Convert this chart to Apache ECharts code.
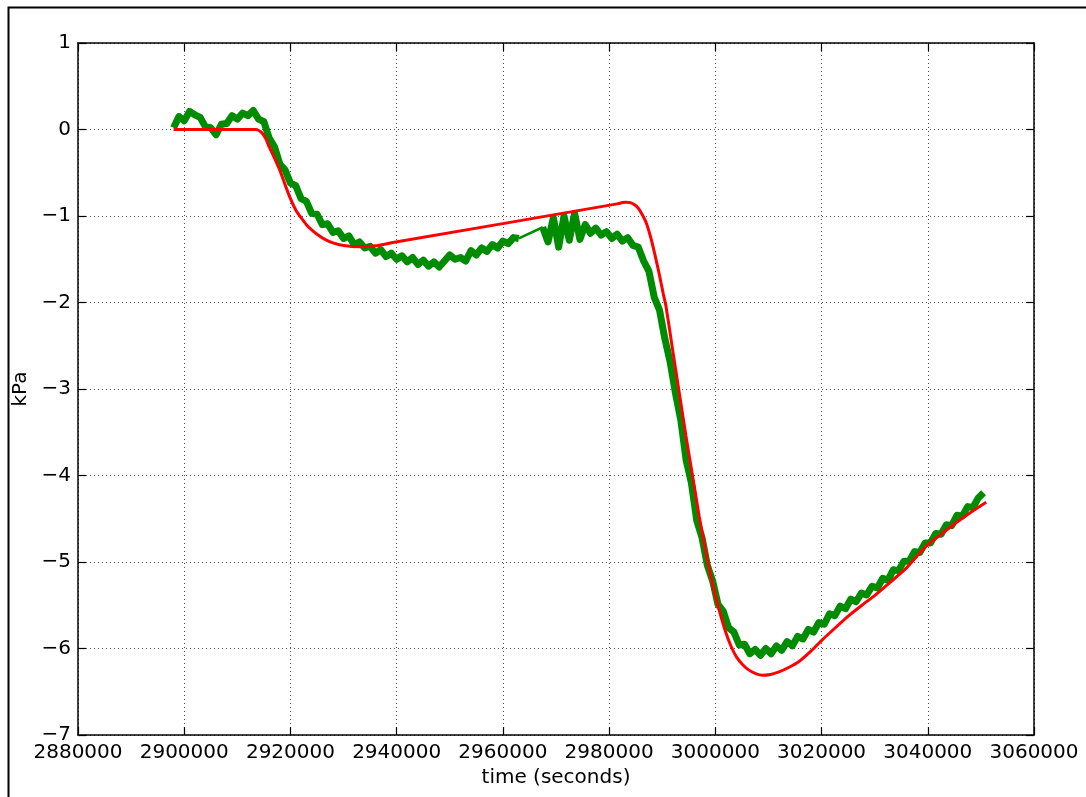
<!DOCTYPE html>
<html>
<head>
<meta charset="utf-8">
<script src="https://cdn.jsdelivr.net/npm/echarts@6/dist/echarts.min.js"></script>
<style>html,body{margin:0;padding:0;background:#fff;}#c{width:1086px;height:797px;}</style>
</head>
<body>
<div id="c"></div>
<script>
// X axis ticks
const xTicks = [2880000, 2900000, 2920000, 2940000, 2960000, 2980000, 3000000, 3020000, 3040000, 3060000];
const yTicks = [-7, -6, -5, -4, -3, -2, -1, 0, 1];

// Model (red) curve
const redTime = [2898000, 2913500, 2914500, 2915300, 2916000, 2917000, 2918000, 2919000, 2920000, 2921000,
  2922000, 2923000, 2924000, 2925000, 2926500, 2928000, 2930000, 2933000, 2936000, 2939000,
  2981500, 2982500, 2983200, 2984000, 2984800, 2985500, 2986200, 2987000, 2987800, 2988600,
  2989400, 2990200, 2990700, 2991940, 2993200, 2994460, 2995700, 2996960, 2998220, 2999460,
  3000700, 3001900, 3003000, 3004000, 3005200, 3006350, 3007600, 3008850, 3010400, 3011990,
  3013800, 3015750, 3018000, 3020130, 3022600, 3025140, 3027600, 3030160, 3033000, 3035800,
  3038000, 3040000, 3042500, 3045000, 3048000, 3051000];
const redValue = [0, 0, -0.03, -0.10, -0.20, -0.33, -0.47, -0.64, -0.80, -0.93,
  -1.02, -1.10, -1.16, -1.21, -1.27, -1.31, -1.34, -1.355, -1.345, -1.31,
  -0.86, -0.845, -0.84, -0.845, -0.87, -0.91, -0.98, -1.08, -1.24, -1.44,
  -1.66, -1.90, -2.04, -2.54, -3.04, -3.54, -4.00, -4.47, -4.89, -5.25,
  -5.55, -5.80, -5.98, -6.10, -6.19, -6.25, -6.29, -6.31, -6.30, -6.27,
  -6.22, -6.15, -6.03, -5.90, -5.76, -5.62, -5.50, -5.38, -5.23, -5.08,
  -4.93, -4.80, -4.68, -4.56, -4.43, -4.31];

// Measured (green) data, first block sampled every 1000 s from 2898000
const greenAStart = 2898000;
const greenStep = 1000;
const greenAValue = [0.02, 0.15, 0.10, 0.21, 0.17, 0.14, 0.03, 0.02, -0.06, 0.06,
  0.07, 0.16, 0.12, 0.19, 0.16, 0.22, 0.12, 0.09, -0.10, -0.20,
  -0.40, -0.47, -0.62, -0.65, -0.80, -0.83, -0.97, -0.98, -1.10, -1.09,
  -1.19, -1.17, -1.26, -1.23, -1.33, -1.30, -1.37, -1.35, -1.43, -1.39,
  -1.47, -1.43, -1.50, -1.46, -1.53, -1.48, -1.56, -1.51, -1.58, -1.53,
  -1.59, -1.52, -1.45, -1.50, -1.48, -1.52, -1.40, -1.45, -1.37, -1.41,
  -1.33, -1.37, -1.29, -1.32, -1.25, -1.26];
// Second block, sampled every 1000 s from 2967500
const greenBStart = 2967500;
const greenBValue = [-1.13, -1.30, -1.02, -1.36, -1.00, -1.28, -0.97, -1.27, -1.10, -1.20,
  -1.14, -1.22, -1.18, -1.26, -1.21, -1.29, -1.25, -1.34, -1.36, -1.52,
  -1.64, -1.94, -2.09, -2.42, -2.69, -3.05, -3.36, -3.82, -4.09, -4.52,
  -4.72, -5.04, -5.22, -5.49, -5.57, -5.76, -5.81, -5.96, -5.95, -6.06,
  -6.01, -6.08, -6.00, -6.06, -5.97, -6.02, -5.92, -5.97, -5.86, -5.89,
  -5.78, -5.81, -5.70, -5.72, -5.60, -5.62, -5.51, -5.54, -5.43, -5.46,
  -5.36, -5.38, -5.28, -5.30, -5.19, -5.21, -5.09, -5.10, -4.99, -4.99,
  -4.88, -4.89, -4.78, -4.78, -4.67, -4.68, -4.57, -4.58, -4.46, -4.47,
  -4.36, -4.37, -4.26, -4.20];

const greenA = greenAValue.map((v, i) => [greenAStart + i * greenStep, v]);
const greenB = greenBValue.map((v, i) => [greenBStart + i * greenStep, v]);
const greenGap = [greenA[greenA.length - 1], greenB[0]];
const red = redTime.map((t, i) => [t, redValue[i]]);

const FONT = 'DejaVu Sans';
const GREEN = '#008c00';
const chart = echarts.init(document.getElementById('c'), null, {renderer: 'canvas'});

const axisLine = {show: true, onZero: false, lineStyle: {color: '#000', width: 1.5}};
const tick = {show: true, inside: true, length: 8, lineStyle: {color: '#000', width: 1.2}};

chart.setOption({
  animation: false,
  backgroundColor: '#fff',
  graphic: [{
    type: 'rect', left: 6, top: 5, z: 100, silent: true,
    shape: {x: 0, y: 0, width: 1200, height: 900},
    style: {fill: 'none', stroke: '#000', lineWidth: 2}
  }],
  grid: {left: 78, right: 52, top: 43, bottom: 62, containLabel: false},
  xAxis: [{
    type: 'value', min: xTicks[0], max: xTicks[xTicks.length - 1], interval: xTicks[1] - xTicks[0],
    position: 'bottom',
    name: 'time (seconds)', nameLocation: 'middle', nameGap: 30,
    nameTextStyle: {fontFamily: FONT, fontSize: 20, color: '#000'},
    axisLine: axisLine, axisTick: tick,
    axisLabel: {fontFamily: FONT, fontSize: 20, color: '#000', margin: 8, formatter: v => String(v)},
    splitLine: {show: true, lineStyle: {color: '#555', width: 1, type: [1, 3]}}
  }, {
    type: 'value', min: xTicks[0], max: xTicks[xTicks.length - 1], interval: xTicks[1] - xTicks[0],
    position: 'top', axisLine: axisLine, axisTick: tick, axisLabel: {show: false}, splitLine: {show: false}
  }],
  yAxis: [{
    type: 'value', min: yTicks[0], max: yTicks[yTicks.length - 1], interval: 1,
    position: 'left',
    name: 'kPa', nameLocation: 'middle', nameGap: 39, nameRotate: 90,
    nameTextStyle: {fontFamily: FONT, fontSize: 20, color: '#000'},
    axisLine: axisLine, axisTick: tick,
    axisLabel: {fontFamily: FONT, fontSize: 20, color: '#000', margin: 7,
      formatter: v => String(v).replace('-', '\u2212')},
    splitLine: {show: true, lineStyle: {color: '#555', width: 1, type: [1, 3]}}
  }, {
    type: 'value', min: yTicks[0], max: yTicks[yTicks.length - 1], interval: 1,
    position: 'right', axisLine: axisLine, axisTick: tick, axisLabel: {show: false}, splitLine: {show: false}
  }],
  series: [
    {type: 'line', data: greenA, showSymbol: false, z: 3, lineStyle: {color: GREEN, width: 7, join: 'round'}},
    {type: 'line', data: greenGap, showSymbol: false, z: 3, lineStyle: {color: GREEN, width: 2.5}},
    {type: 'line', data: greenB, showSymbol: false, z: 3, lineStyle: {color: GREEN, width: 7, join: 'round'}},
    {type: 'line', data: red, showSymbol: false, z: 4, smooth: 0.2,
      lineStyle: {color: '#ff0000', width: 3}}
  ]
});
</script>
</body>
</html>
